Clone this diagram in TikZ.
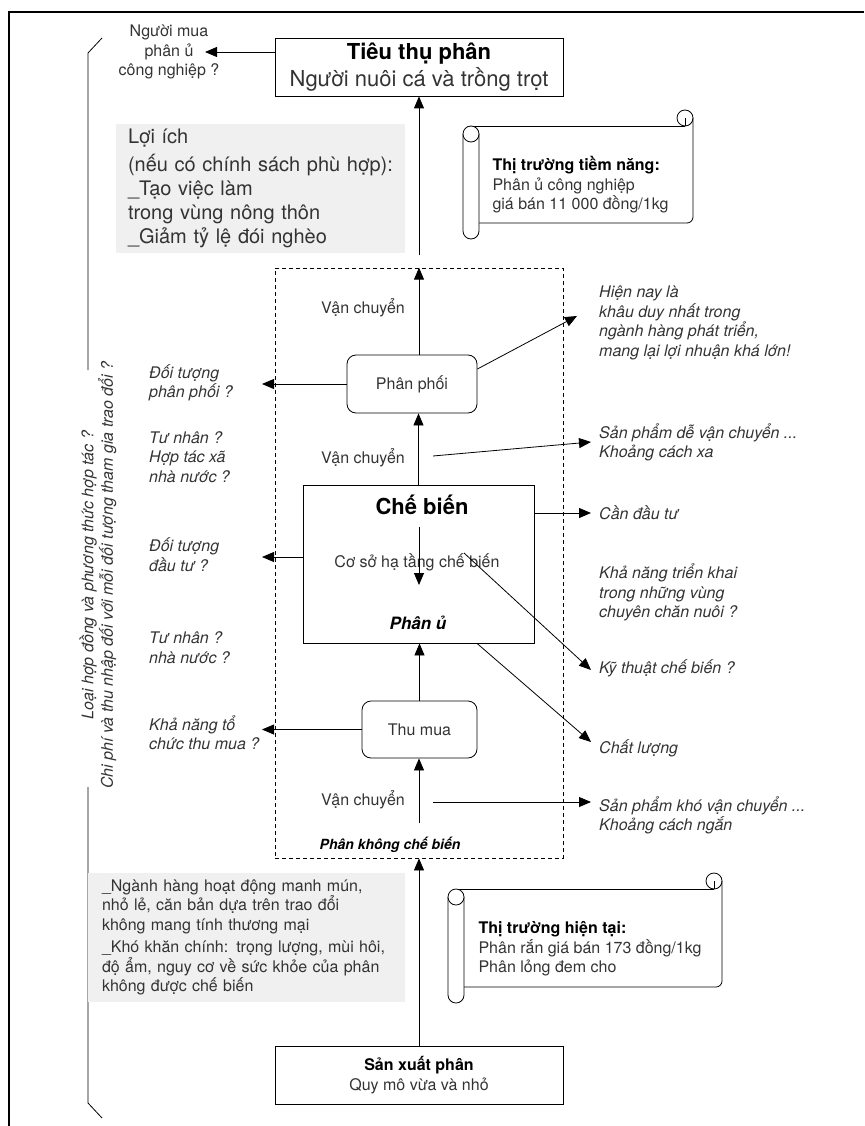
\documentclass[tikz,border=0pt]{standalone}
\usepackage{fontspec}
\setmainfont{TeX Gyre Heros}
\usetikzlibrary{arrows.meta}
\newcommand\txtnorm{\fontsize{16pt}{19.5pt}\selectfont}
\newcommand\txtbig{\fontsize{22pt}{27pt}\selectfont}
\newcommand\txtnote{\fontsize{20pt}{24pt}\selectfont}
% scroll: left, top, right, bottom of the body
\newcommand\scrollshape[4]{%
  \draw[line width=0.8pt] (#1+8,#2) -- (#3-8,#2);
  \draw[line width=0.8pt] (#3-8,#2-8) circle[radius=8pt];
  \draw[line width=0.8pt] (#3-8,#2-8) -- (#3-8,#2);
  \draw[line width=0.8pt, rounded corners=6pt] (#3,#2-8) -- (#3,#4) -- (#1+16,#4);
  \filldraw[fill=white, line width=0.8pt, rounded corners=8pt]
    (#1,#2+8) -- (#1,#4+16) -- (#1+16,#4+16) -- (#1+16,#2+8);
  \filldraw[fill=white, line width=0.8pt] (#1+8,#2+8) circle[radius=8pt];
}

\begin{document}
\begin{tikzpicture}[x=1pt,y=-1pt,
    every node/.style={text=black!80, font=\txtnorm},
    stage/.style={draw, line width=0.8pt, minimum width=288pt, minimum height=58pt, align=center},
    link/.style={draw, line width=0.8pt, rounded corners=9pt, minimum height=58pt},
    ask/.style={font=\txtnorm\itshape, align=left, anchor=west, inner sep=0pt},
    shade/.style={fill=black!6, align=left, inner ysep=0pt},
    arr/.style={-{Triangle[length=12pt,width=10pt]}, line width=0.8pt},
  ]
  \useasboundingbox (0,0) rectangle (864,1126);
  \draw[line width=1.2pt] (9,1126) -- (9,12) -- (864,12);

  % bracket on the left
  \draw[line width=0.8pt] (102,38) -- (88,53) -- (88,370);
  \draw[line width=0.8pt] (88,787) -- (88,1103) -- (102,1118);
  \node[rotate=90, font=\txtnorm\itshape, align=center] (deal) at (98,575)
    {Loại hợp đồng và phương thức hợp tác ?\\Chi phí và thu nhập đối với mỗi đối tượng tham gia trao đổi ?};

  % consumption
  \node[stage, font=\txtbig] (use) at (419,67)
    {\textcolor{black}{\textbf{Tiêu thụ phân}}\\Người nuôi cá và trồng trọt};
  \node[align=center] (buyer) at (169,52) {Người mua\\phân ủ\\công nghiệp ?};
  \coordinate (buyertip) at (205,52);
  \draw[arr] (use.west |- buyertip) -- (buyertip);

  \node[shade, font=\txtnote, minimum width=289pt, minimum height=129pt, text width=271pt, inner xsep=9pt] (benefit) at (260.5,188.5)
    {\hspace*{3pt}Lợi ích\\[4pt]\hspace*{3pt}(nếu có chính sách phù hợp):\\\hspace*{3pt}\_Tạo việc làm\\\hspace*{3pt}trong vùng nông thôn\\\hspace*{3pt}\_Giảm tỷ lệ đói nghèo};

  \scrollshape{463}{126}{693}{223}
  \node[anchor=west, align=left] (potential) at (489,185)
    {\textcolor{black}{\textbf{Thị trường tiềm năng:}}\\Phân ủ công nghiệp\\giá bán 11 000 đồng/1kg};

  % value chain
  \node[draw, dash pattern=on 4pt off 3pt, line width=0.8pt, minimum width=288pt, minimum height=590pt] (chain) at (419,563) {};
  \node[link, minimum width=130pt] (distrib) at (412,384) {Phân phối};
  \node[draw, line width=0.8pt, minimum width=231pt, minimum height=158pt] (process) at (418.5,564) {};
  \node[font=\txtbig\bfseries, text=black] (proctitle) at (422,505) {Chế biến};
  \node (infra) at (417,562) {Cơ sở hạ tầng chế biến};
  \node[font=\fontsize{17pt}{20pt}\selectfont\bfseries\itshape, text=black] (compost) at (418,623) {Phân ủ};
  \node[link, minimum width=115pt, minimum height=57pt] (collect) at (419.5,729.5) {Thu mua};
  \node[font=\fontsize{14pt}{17pt}\selectfont\bfseries\itshape, text=black] (raw) at (390,845) {Phân không chế biến};
  \node (move1) at (363,308) {Vận chuyển};
  \node (move2) at (363,458) {Vận chuyển};
  \node (move3) at (363,800) {Vận chuyển};

  \node[stage] (produce) at (419,1075) {\textcolor{black}{\textbf{Sản xuất phân}}\\Quy mô vừa và nhỏ};
  \node[shade, minimum width=317pt, minimum height=129pt, text width=289pt, inner xsep=14pt] (problem) at (246.5,937.5)
    {\_Ngành hàng hoạt động manh mún,\\nhỏ lẻ, căn bản dựa trên trao đổi\\không mang tính thương mại\\[3pt]\_Khó khăn chính: trọng lượng, mùi hôi,\\độ ẩm, nguy cơ về sức khỏe của phân\\không được chế biến};
  \scrollshape{448}{889}{722}{987}
  \node[anchor=west, align=left] (current) at (475,949)
    {\textcolor{black}{\textbf{Thị trường hiện tại:}}\\Phân rắn giá bán 173 đồng/1kg\\Phân lỏng đem cho};

  % questions on the left
  \node[ask] (whodist) at (149,383) {Đối tượng\\phân phối ?};
  \node[ask] (owner1) at (149,457) {Tư nhân ?\\Hợp tác xã\\nhà nước ?};
  \node[ask] (whoinv) at (149,554.5) {Đối tượng\\đầu tư ?};
  \node[ask] (owner2) at (149,647.5) {Tư nhân ?\\nhà nước ?};
  \node[ask] (canbuy) at (149,732.5) {Khả năng tổ\\chức thu mua ?};

  % remarks on the right
  \node[ask] (nowtext) at (599,322.75) {Hiện nay là\\khâu duy nhất trong\\ngành hàng phát triển,\\mang lại lợi nhuận khá lớn!};
  \node[ask] (easy) at (599,442.5) {Sản phẩm dễ vận chuyển ...\\Khoảng cách xa};
  \node[ask] (invest) at (599,513) {Cần đầu tư};
  \node[ask] (spread) at (599,592.7) {Khả năng triển khai\\trong những vùng\\chuyên chăn nuôi ?};
  \node[ask] (tech) at (599,668) {Kỹ thuật chế biến ?};
  \node[ask] (quality) at (599,748) {Chất lượng};
  \node[ask] (hard) at (599,815.5) {Sản phẩm khó vận chuyển ...\\Khoảng cách ngắn};

  % main flow
  \coordinate (usefoot) at (419,255);
  \coordinate (rawtop) at (419,823);
  \draw[arr] (produce.north) -- (chain.south);
  \draw[arr] (rawtop) -- (rawtop |- collect.south);
  \draw[arr] (collect.north) -- (collect.north |- process.south);
  \draw[arr] (process.north) -- (process.north |- distrib.south);
  \draw[arr] (chain.north |- distrib.north) -- (chain.north);
  \draw[arr] (usefoot) -- (use.south);
  \coordinate (infratop) at (419,527);
  \coordinate (infrabot) at (419,585);
  \draw[arr] (infratop) -- (infrabot);

  % to the left
  \coordinate (leftend) at (262,0);
  \draw[arr] (distrib.west) -- (distrib.west -| leftend);
  \draw[arr] ([yshift=7pt]process.west) -- ([yshift=7pt]process.west -| leftend);
  \draw[arr] (collect.west) -- (collect.west -| leftend);

  % to the right
  \coordinate (tipnow) at (577,316);
  \coordinate (move2end) at (433,456);
  \coordinate (tipeasy) at (591,442);
  \coordinate (infraend) at (464,553);
  \coordinate (tiptech) at (591,670);
  \coordinate (tipquality) at (591,742);
  \coordinate (move3end) at (433,802);
  \coordinate (tiphard) at (591,802);
  \draw[arr] ([yshift=15pt]distrib.east) -- (tipnow);
  \draw[arr] (move2end) -- (tipeasy);
  \draw[arr] ([yshift=51pt]process.east) -- ([yshift=51pt]process.east -| tipeasy);
  \draw[arr] (infraend) -- (tiptech);
  \draw[arr] (process.south -| 477,0) -- (tipquality);
  \draw[arr] (move3end) -- (tiphard);
\end{tikzpicture}
\end{document}
